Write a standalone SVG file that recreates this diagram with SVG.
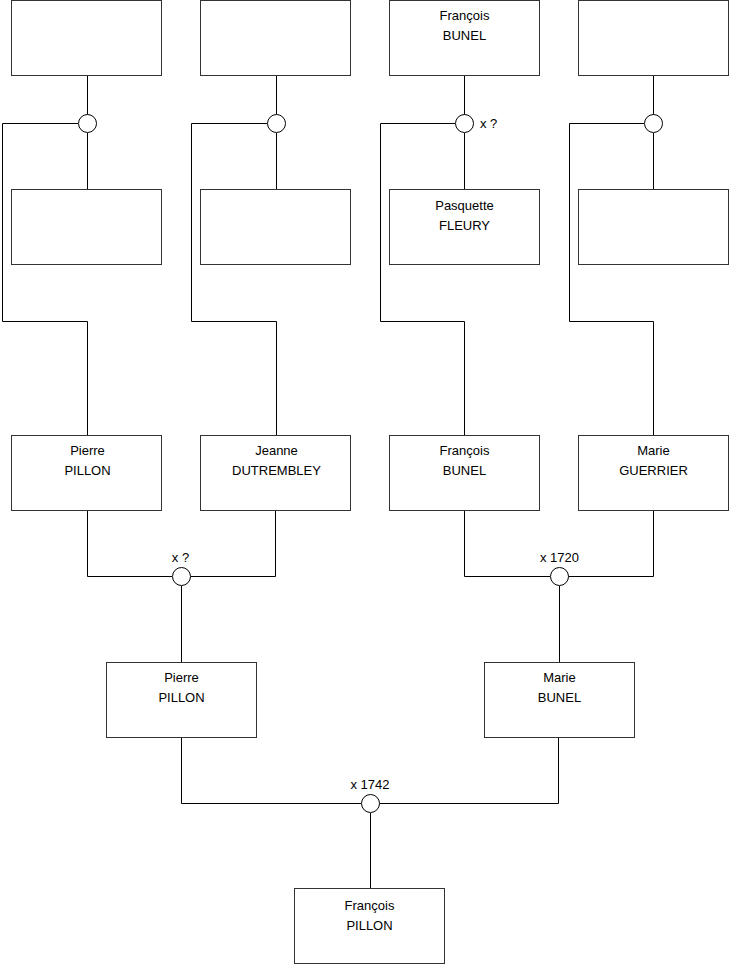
<svg xmlns="http://www.w3.org/2000/svg" width="740" height="975" viewBox="0 0 740 975">
<style>
.box{fill:#fff;stroke:#333;stroke-width:1}
.c{fill:#fff;stroke:#000;stroke-width:1}
.ln{fill:none;stroke:#000;stroke-width:1}
text{font-family:"Liberation Sans",Arial,sans-serif;font-size:13px;fill:#000}
.m{text-anchor:middle}
</style>
<rect width="740" height="975" fill="#fff"/>
<g id="connectors">
<path class="ln" d="M87.5 76V115M87.5 133V190M78 123.5H2.5V321.5H87.5V435"/>
<path class="ln" d="M276.5 76V115M276.5 133V190M267 123.5H191.5V321.5H276.5V435"/>
<path class="ln" d="M464.5 76V115M464.5 133V190M455 123.5H380.5V321.5H464.5V435"/>
<path class="ln" d="M653.5 76V115M653.5 133V190M644 123.5H569.5V321.5H653.5V435"/>
<path class="ln" d="M87.5 510V576.5H172M190 576.5H275.5V510M181.5 586V662"/>
<path class="ln" d="M464.5 510V576.5H550M568 576.5H653.5V510M559.5 586V662"/>
<path class="ln" d="M181.5 737V803.5H361M379 803.5H558.5V737M370.5 813V888"/>
</g>
<g id="n1"><rect class="box" x="11.5" y="0.5" width="150" height="75"/></g>
<g id="n2"><rect class="box" x="200.5" y="0.5" width="150" height="75"/></g>
<g id="n3"><rect class="box" x="389.5" y="0.5" width="150" height="75"/><text class="m" x="464.5" y="20">François</text><text class="m" x="464.5" y="40">BUNEL</text></g>
<g id="n4"><rect class="box" x="578.5" y="0.5" width="150" height="75"/></g>
<g id="u1"><circle class="c" cx="87.5" cy="123.5" r="9"/></g>
<g id="u2"><circle class="c" cx="276.5" cy="123.5" r="9"/></g>
<g id="u3"><circle class="c" cx="464.5" cy="123.5" r="9"/><text x="480" y="128">x ?</text></g>
<g id="u4"><circle class="c" cx="653.5" cy="123.5" r="9"/></g>
<g id="n5"><rect class="box" x="11.5" y="189.5" width="150" height="75"/></g>
<g id="n6"><rect class="box" x="200.5" y="189.5" width="150" height="75"/></g>
<g id="n7"><rect class="box" x="389.5" y="189.5" width="150" height="75"/><text class="m" x="464.5" y="210">Pasquette</text><text class="m" x="464.5" y="230">FLEURY</text></g>
<g id="n8"><rect class="box" x="578.5" y="189.5" width="150" height="75"/></g>
<g id="n9"><rect class="box" x="11.5" y="435.5" width="150" height="75"/><text class="m" x="87.5" y="455">Pierre</text><text class="m" x="87.5" y="475">PILLON</text></g>
<g id="n10"><rect class="box" x="200.5" y="435.5" width="150" height="75"/><text class="m" x="276.5" y="455">Jeanne</text><text class="m" x="276.5" y="475">DUTREMBLEY</text></g>
<g id="n11"><rect class="box" x="389.5" y="435.5" width="150" height="75"/><text class="m" x="464.5" y="455">François</text><text class="m" x="464.5" y="475">BUNEL</text></g>
<g id="n12"><rect class="box" x="578.5" y="435.5" width="150" height="75"/><text class="m" x="653.5" y="455">Marie</text><text class="m" x="653.5" y="475">GUERRIER</text></g>
<g id="u5"><circle class="c" cx="181.5" cy="576.5" r="9"/><text class="m" x="180.5" y="562">x ?</text></g>
<g id="u6"><circle class="c" cx="559.5" cy="576.5" r="9"/><text class="m" x="559.5" y="562">x 1720</text></g>
<g id="n13"><rect class="box" x="106.5" y="662.5" width="150" height="75"/><text class="m" x="181.5" y="682">Pierre</text><text class="m" x="181.5" y="702">PILLON</text></g>
<g id="n14"><rect class="box" x="484.5" y="662.5" width="150" height="75"/><text class="m" x="559.5" y="682">Marie</text><text class="m" x="559.5" y="702">BUNEL</text></g>
<g id="u7"><circle class="c" cx="370.5" cy="803.5" r="9"/><text class="m" x="370" y="789">x 1742</text></g>
<g id="n15"><rect class="box" x="294.5" y="888.5" width="150" height="75"/><text class="m" x="369.5" y="910">François</text><text class="m" x="369.5" y="930">PILLON</text></g>
</svg>
